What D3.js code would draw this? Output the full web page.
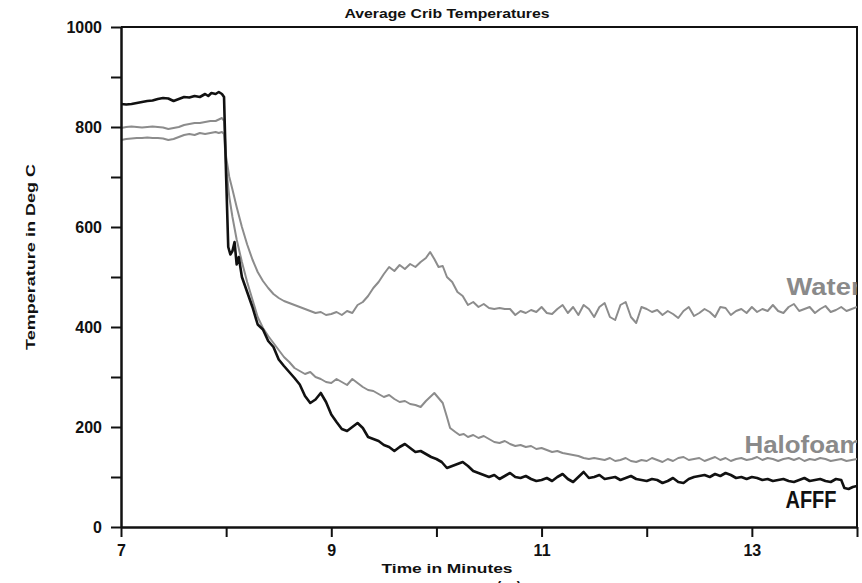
<!DOCTYPE html>
<html>
<head>
<meta charset="utf-8">
<script src="https://cdn.jsdelivr.net/npm/d3@7"></script>
<style>
  body { margin: 0; background: #fff; }
  text { font-family: "Liberation Sans", Arial, sans-serif; font-weight: bold; }
</style>
</head>
<body>
<svg id="chart"></svg>
<script>
// readings as [minutes, deg C]
const afff = [
  [7.00,846],[7.05,845],[7.10,846],[7.15,848],[7.20,850],[7.25,852],[7.30,853],[7.35,856],[7.40,858],[7.45,857],
  [7.50,852],[7.55,856],[7.60,860],[7.65,859],[7.70,862],[7.75,860],[7.80,866],[7.83,862],[7.86,868],[7.90,866],
  [7.93,870],[7.96,866],[7.98,860],[8.00,700],[8.02,560],[8.04,545],[8.06,552],[8.08,570],[8.10,525],[8.12,540],
  [8.15,500],[8.20,470],[8.25,440],[8.30,405],[8.35,395],[8.40,372],[8.45,360],[8.50,335],[8.55,322],[8.60,310],
  [8.65,298],[8.70,285],[8.75,262],[8.80,248],[8.85,255],[8.90,268],[8.95,250],[9.00,225],[9.05,210],[9.10,196],
  [9.15,192],[9.20,200],[9.25,208],[9.30,198],[9.35,180],[9.40,176],[9.45,172],[9.50,164],[9.55,160],[9.60,152],
  [9.65,160],[9.70,166],[9.75,158],[9.80,150],[9.85,152],[9.90,146],[9.95,140],[10.00,136],[10.05,130],[10.10,118],
  [10.15,122],[10.20,126],[10.25,130],[10.30,122],[10.35,112],[10.40,108],[10.45,104],[10.50,100],[10.55,104],[10.60,96],
  [10.65,102],[10.70,108],[10.75,100],[10.80,98],[10.85,102],[10.90,96],[10.95,92],[11.00,94],[11.05,98],[11.10,92],
  [11.15,100],[11.20,106],[11.25,96],[11.30,90],[11.35,100],[11.40,110],[11.45,98],[11.50,100],[11.55,104],[11.60,96],
  [11.65,98],[11.70,100],[11.75,94],[11.80,98],[11.85,102],[11.90,96],[11.95,94],[12.00,92],[12.05,96],[12.10,94],
  [12.15,88],[12.20,92],[12.25,98],[12.30,90],[12.35,88],[12.40,96],[12.45,100],[12.50,102],[12.55,104],[12.60,100],
  [12.65,106],[12.70,102],[12.75,108],[12.80,104],[12.85,98],[12.90,100],[12.95,96],[13.00,100],[13.05,98],[13.10,94],
  [13.15,96],[13.20,92],[13.25,94],[13.30,96],[13.35,92],[13.40,90],[13.45,94],[13.50,98],[13.55,92],[13.60,94],
  [13.65,96],[13.70,92],[13.75,90],[13.80,96],[13.85,94],[13.88,78],[13.92,76],[13.96,80],[14.00,82]
];

const water = [
  [7.00,798],[7.05,800],[7.10,801],[7.15,800],[7.20,799],[7.25,800],[7.30,801],[7.35,800],[7.40,799],[7.45,796],
  [7.50,798],[7.55,800],[7.60,804],[7.65,806],[7.70,808],[7.75,808],[7.80,810],[7.85,812],[7.90,812],[7.93,815],
  [7.96,818],[7.98,812],[8.00,740],[8.03,700],[8.06,675],[8.10,640],[8.15,600],[8.20,565],[8.25,535],[8.30,510],
  [8.35,492],[8.40,478],[8.45,466],[8.50,458],[8.55,452],[8.60,448],[8.65,444],[8.70,440],[8.75,436],[8.80,432],
  [8.85,428],[8.90,430],[8.95,424],[9.00,426],[9.05,430],[9.10,424],[9.15,432],[9.20,428],[9.25,444],[9.30,450],
  [9.35,462],[9.40,478],[9.45,490],[9.50,506],[9.55,520],[9.60,512],[9.65,524],[9.70,516],[9.75,526],[9.80,520],
  [9.85,530],[9.90,538],[9.94,550],[9.98,536],[10.02,520],[10.06,522],[10.10,500],[10.15,490],[10.20,470],[10.25,462],
  [10.30,444],[10.35,450],[10.40,440],[10.45,446],[10.50,438],[10.55,436],[10.60,438],[10.65,436],[10.70,436],[10.75,424],
  [10.80,432],[10.85,428],[10.90,434],[10.95,430],[11.00,440],[11.05,428],[11.10,426],[11.15,436],[11.20,444],[11.25,428],
  [11.30,440],[11.35,424],[11.40,444],[11.45,436],[11.50,420],[11.55,440],[11.60,448],[11.65,420],[11.70,414],[11.75,444],
  [11.80,450],[11.85,420],[11.90,408],[11.95,440],[12.00,436],[12.05,430],[12.10,434],[12.15,424],[12.20,432],[12.25,426],
  [12.30,418],[12.35,432],[12.40,440],[12.45,422],[12.50,428],[12.55,436],[12.60,430],[12.65,420],[12.70,440],[12.75,438],
  [12.80,424],[12.85,432],[12.90,436],[12.95,428],[13.00,440],[13.05,430],[13.10,436],[13.15,432],[13.20,444],[13.25,432],
  [13.30,428],[13.35,440],[13.40,446],[13.45,432],[13.50,436],[13.55,440],[13.60,428],[13.65,436],[13.70,442],[13.75,430],
  [13.80,434],[13.85,440],[13.90,432],[13.95,436],[14.00,440]
];

const halofoam = [
  [7.00,774],[7.05,776],[7.10,777],[7.15,778],[7.20,778],[7.25,779],[7.30,778],[7.35,778],[7.40,777],[7.45,774],
  [7.50,776],[7.55,780],[7.60,784],[7.65,786],[7.70,784],[7.75,788],[7.80,786],[7.85,788],[7.90,790],[7.93,788],
  [7.96,790],[7.98,786],[8.00,720],[8.03,660],[8.06,620],[8.10,575],[8.15,530],[8.20,490],[8.25,455],[8.30,420],
  [8.35,398],[8.40,382],[8.45,368],[8.50,354],[8.55,340],[8.60,330],[8.65,318],[8.70,312],[8.75,306],[8.80,310],
  [8.85,300],[8.90,296],[8.95,290],[9.00,288],[9.05,296],[9.10,290],[9.15,284],[9.20,296],[9.25,288],[9.30,280],
  [9.35,274],[9.40,272],[9.45,266],[9.50,260],[9.55,264],[9.60,256],[9.65,250],[9.70,252],[9.75,246],[9.80,244],
  [9.85,240],[9.90,252],[9.95,262],[9.98,268],[10.02,258],[10.06,248],[10.10,220],[10.13,198],[10.18,190],[10.22,184],
  [10.26,186],[10.30,180],[10.35,184],[10.40,178],[10.45,182],[10.50,176],[10.55,170],[10.60,168],[10.65,172],[10.70,166],
  [10.75,162],[10.80,164],[10.85,160],[10.90,162],[10.95,156],[11.00,158],[11.05,154],[11.10,150],[11.15,152],[11.20,148],
  [11.25,146],[11.30,144],[11.35,142],[11.40,138],[11.45,136],[11.50,138],[11.55,136],[11.60,134],[11.65,138],[11.70,132],
  [11.75,134],[11.80,138],[11.85,132],[11.90,130],[11.95,134],[12.00,132],[12.05,138],[12.10,134],[12.15,130],[12.20,136],
  [12.25,132],[12.30,138],[12.35,140],[12.40,134],[12.45,136],[12.50,138],[12.55,132],[12.60,136],[12.65,140],[12.70,134],
  [12.75,138],[12.80,132],[12.85,136],[12.90,138],[12.95,134],[13.00,136],[13.05,140],[13.10,134],[13.15,138],[13.20,136],
  [13.25,132],[13.30,136],[13.35,138],[13.40,134],[13.45,138],[13.50,132],[13.55,136],[13.60,134],[13.65,138],[13.70,136],
  [13.75,132],[13.80,134],[13.85,136],[13.90,132],[13.95,134],[14.00,136]
];

const xTicks = [7, 8, 9, 10, 11, 12, 13, 14];
const xLabels = [7, 9, 11, 13];
const yTicks = [0, 100, 200, 300, 400, 500, 600, 700, 800, 900, 1000];
const yLabels = [0, 200, 400, 600, 800, 1000];

const width = 862, height = 583;
const m = { left: 121, right: 857, top: 27, bottom: 527 };

const svg = d3.select("#chart")
  .attr("width", width)
  .attr("height", height);

const x = d3.scaleLinear().domain([7, 14]).range([m.left, m.right]);
const y = d3.scaleLinear().domain([0, 1000]).range([m.bottom, m.top]);

svg.append("defs").append("clipPath")
  .attr("id", "plot")
  .append("rect")
  .attr("x", m.left).attr("y", m.top)
  .attr("width", m.right - m.left).attr("height", m.bottom - m.top);

// frame: top and right edges
svg.append("path")
  .attr("d", `M${m.left},${m.top}H${m.right}V${m.bottom}`)
  .attr("fill", "none")
  .attr("stroke", "#111")
  .attr("stroke-width", 2);

const line = d3.line()
  .x(d => x(d[0]))
  .y(d => y(d[1]));

const series = [
  { data: water, color: "#8c8c8c", w: 2 },
  { data: halofoam, color: "#8c8c8c", w: 2 },
  { data: afff, color: "#111", w: 2.6 }
];

const g = svg.append("g").attr("clip-path", "url(#plot)");

g.selectAll("path.series")
  .data(series)
  .enter().append("path")
  .attr("class", "series")
  .attr("fill", "none")
  .attr("stroke", d => d.color)
  .attr("stroke-width", d => d.w)
  .attr("stroke-linejoin", "round")
  .attr("d", d => line(d.data));

// series labels, clipped by the right edge like the original
const labels = [
  { text: "Water", t: 13.33, v: 464, color: "#8a8a8a", len: 75 },
  { text: "Halofoam", t: 12.93, v: 148, color: "#8a8a8a", len: 118 },
  { text: "AFFF", t: 13.32, v: 38, color: "#111", len: 51 }
];

g.selectAll("text.label")
  .data(labels)
  .enter().append("text")
  .attr("class", "label")
  .attr("x", d => x(d.t))
  .attr("y", d => y(d.v))
  .attr("fill", d => d.color)
  .attr("font-size", 24)
  .attr("textLength", d => d.len)
  .attr("lengthAdjust", "spacingAndGlyphs")
  .text(d => d.text);

const yAxis = svg.append("g")
  .attr("transform", `translate(${m.left},0)`)
  .call(d3.axisLeft(y)
    .tickValues(yTicks)
    .tickSize(10)
    .tickSizeOuter(0)
    .tickPadding(9)
    .tickFormat(d => yLabels.includes(d) ? d : ""));

const xAxis = svg.append("g")
  .attr("transform", `translate(0,${m.bottom})`)
  .call(d3.axisBottom(x)
    .tickValues(xTicks)
    .tickSize(10)
    .tickSizeOuter(0)
    .tickPadding(8)
    .tickFormat(d => xLabels.includes(d) ? d : ""));

[yAxis, xAxis].forEach(a => {
  a.select(".domain").attr("stroke", "#111").attr("stroke-width", 2.5);
  a.selectAll(".tick line").attr("stroke", "#111").attr("stroke-width", 2);
  a.selectAll(".tick text").attr("fill", "#111").attr("font-size", 16)
    .attr("font-family", "Liberation Sans, Arial, sans-serif").attr("font-weight", "bold");
});

svg.append("text")
  .attr("x", 447).attr("y", 18)
  .attr("text-anchor", "middle")
  .attr("font-size", 13)
  .attr("textLength", 205)
  .attr("lengthAdjust", "spacingAndGlyphs")
  .attr("fill", "#111")
  .text("Average Crib Temperatures");

svg.append("text")
  .attr("transform", "translate(35,257) rotate(-90)")
  .attr("text-anchor", "middle")
  .attr("font-size", 13)
  .attr("textLength", 186)
  .attr("lengthAdjust", "spacingAndGlyphs")
  .attr("fill", "#111")
  .text("Temperature in Deg C");

svg.append("text")
  .attr("x", 447).attr("y", 573)
  .attr("text-anchor", "middle")
  .attr("font-size", 13)
  .attr("textLength", 131)
  .attr("lengthAdjust", "spacingAndGlyphs")
  .attr("fill", "#111")
  .text("Time in Minutes");

// caption below is cut off by the page edge
svg.append("text")
  .attr("x", 509).attr("y", 592)
  .attr("text-anchor", "middle")
  .attr("font-size", 14)
  .attr("fill", "#111")
  .text("(      a      )");
</script>
</body>
</html>
